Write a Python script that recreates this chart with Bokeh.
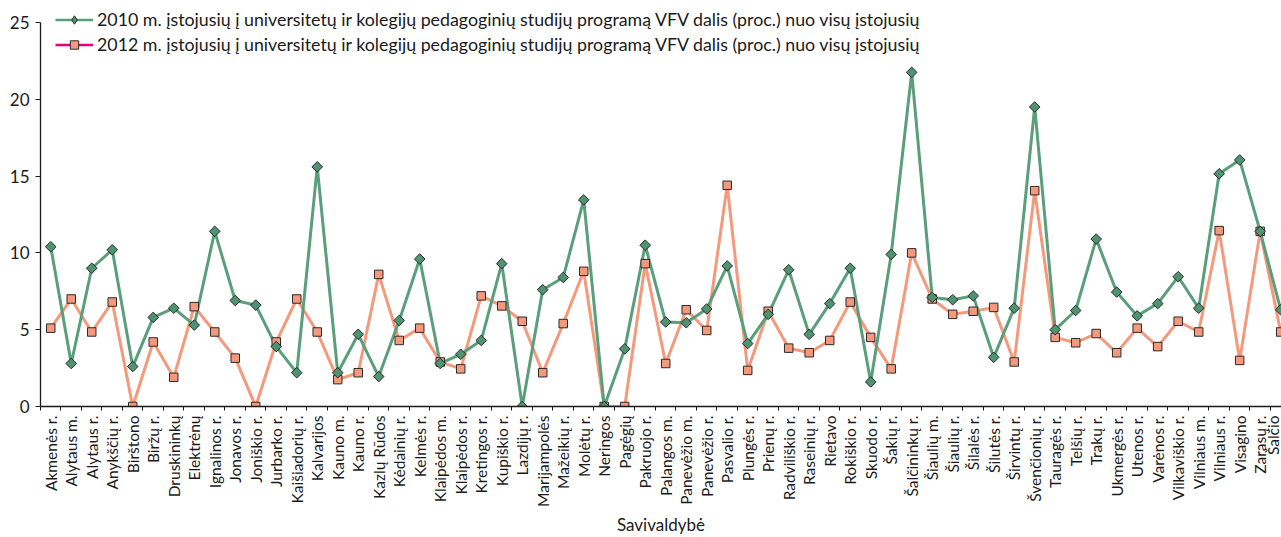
import math
from bokeh.plotting import figure
from bokeh.models import (ColumnDataSource, FixedTicker, Legend, LegendItem, Range1d)
from bokeh.embed import file_html
from bokeh.resources import INLINE

municipalities = [
    "Akmenės r.", "Alytaus m.", "Alytaus r.", "Anykščių r.", "Birštono", "Biržų r.",
    "Druskininkų", "Elektrėnų", "Ignalinos r.", "Jonavos r.", "Joniškio r.", "Jurbarko r.",
    "Kaišiadorių r.", "Kalvarijos", "Kauno m.", "Kauno r.", "Kazlų Rūdos", "Kėdainių r.",
    "Kelmės r.", "Klaipėdos m.", "Klaipėdos r.", "Kretingos r.", "Kupiškio r.", "Lazdijų r.",
    "Marijampolės", "Mažeikių r.", "Molėtų r.", "Neringos", "Pagėgių", "Pakruojo r.",
    "Palangos m.", "Panevėžio m.", "Panevėžio r.", "Pasvalio r.", "Plungės r.", "Prienų r.",
    "Radviliškio r.", "Raseinių r.", "Rietavo", "Rokiškio r.", "Skuodo r.", "Šakių r.",
    "Šalčininkų r.", "Šiaulių m.", "Šiaulių r.", "Šilalės r.", "Šilutės r.", "Širvintų r.",
    "Švenčionių r.", "Tauragės r.", "Telšių r.", "Trakų r.", "Ukmergės r.", "Utenos r.",
    "Varėnos r.", "Vilkaviškio r.", "Vilniaus m.", "Vilniaus r.", "Visagino", "Zarasų r.",
    "Šalčio",
]

share_2010 = [
    10.4, 2.8, 9.0, 10.2, 2.6, 5.8, 6.4, 5.3, 11.4, 6.9, 6.6, 3.9, 2.2, 15.6, 2.2, 4.7,
    1.95, 5.6, 9.6, 2.8, 3.4, 4.3, 9.3, 0.0, 7.6, 8.4, 13.45, 0.0, 3.75, 10.5, 5.5, 5.45,
    6.35, 9.15, 4.1, 6.0, 8.9, 4.7, 6.7, 9.0, 1.6, 9.9, 21.75, 7.1, 6.95, 7.2, 3.2, 6.4,
    19.5, 5.0, 6.25, 10.9, 7.45, 5.9, 6.7, 8.45, 6.4, 15.15, 16.05, 11.4, 6.3,
]

share_2012 = [
    5.1, 7.0, 4.85, 6.8, 0.0, 4.2, 1.9, 6.5, 4.85, 3.15, 0.0, 4.2, 7.0, 4.85, 1.75, 2.2,
    8.6, 4.3, 5.1, 2.9, 2.45, 7.2, 6.55, 5.55, 2.2, 5.4, 8.8, 0.0, 0.0, 9.3, 2.8, 6.3,
    4.95, 14.4, 2.35, 6.2, 3.8, 3.5, 4.3, 6.8, 4.5, 2.45, 10.0, 7.0, 6.0, 6.2, 6.45, 2.9,
    14.05, 4.5, 4.15, 4.75, 3.5, 5.1, 3.9, 5.55, 4.85, 11.45, 3.0, 11.4, 4.85,
]

legend_2010 = "2010 m. įstojusių į universitetų ir kolegijų pedagoginių studijų programą VFV dalis (proc.) nuo visų įstojusių"
legend_2012 = "2012 m. įstojusių į universitetų ir kolegijų pedagoginių studijų programą VFV dalis (proc.) nuo visų įstojusių"
x_title = "Savivaldybė"
y_ticks = [0, 5, 10, 15, 20, 25]

FONT = "Lato"
GREEN = "#5a9e7b"
GREEN_FILL = "#4f9470"
ORANGE = "#f5997c"
MAGENTA = "#e6007e"
EDGE = "#2a2a2a"
TXT = "#1a1a1a"

idx = list(range(len(municipalities)))
src = ColumnDataSource(dict(x=idx, y10=share_2010, y12=share_2012))

W, H = 1281, 537
BORDER_TOP, BORDER_BOTTOM = 8, 130
frame_h = H - BORDER_TOP - BORDER_BOTTOM
px_per_unit = 15.4
y_end = frame_h / px_per_unit

p = figure(width=W, height=H, output_backend="svg", toolbar_location=None,
           x_range=Range1d(-0.5, 60.04), y_range=Range1d(0, y_end),
           min_border_left=40, min_border_right=0, min_border_top=BORDER_TOP,
           min_border_bottom=BORDER_BOTTOM)
p.outline_line_color = None
p.xgrid.visible = False
p.ygrid.visible = False
p.background_fill_color = "white"
p.border_fill_color = "white"

p.line("x", "y12", source=src, line_color=ORANGE, line_width=3)
p.line("x", "y10", source=src, line_color=GREEN, line_width=3)
p.scatter("x", "y12", source=src, marker="square", size=8.5, fill_color=ORANGE,
          line_color=EDGE, line_width=1)
p.scatter("x", "y10", source=src, marker="square", angle=math.pi / 4, size=7.5,
          fill_color=GREEN_FILL, line_color=EDGE, line_width=1)

# legend-only renderers (hidden in the plot, drawn in the legend)
lg_l1 = p.line("x", "y10", source=src, line_color=GREEN, line_width=2.5, visible=False)
lg_m1 = p.scatter("x", "y10", source=src, marker="diamond",
                  fill_color=GREEN_FILL, line_color=EDGE, line_width=1, visible=False)
lg_l2 = p.line("x", "y12", source=src, line_color=MAGENTA, line_width=2.5, visible=False)
lg_m2 = p.scatter("x", "y12", source=src, marker="square", fill_color=ORANGE,
                  line_color=EDGE, line_width=1, visible=False)

ITEM_H, SPACING = 22, 3
legend_h = 2 * ITEM_H + SPACING
legend = Legend(items=[LegendItem(label=legend_2010, renderers=[lg_l1, lg_m1]),
                       LegendItem(label=legend_2012, renderers=[lg_l2, lg_m2])],
                location=(15, frame_h - 1 - legend_h), padding=0, margin=0, spacing=SPACING,
                glyph_width=38, glyph_height=21, label_height=ITEM_H, label_standoff=4,
                border_line_color=None, background_fill_alpha=0,
                label_text_font=FONT, label_text_font_size="17.8px", label_text_color=TXT)
p.add_layout(legend)

xa = p.xaxis[0]
xa.ticker = FixedTicker(ticks=idx, minor_ticks=[i - 0.5 for i in range(len(idx) + 1)])
xa.major_label_overrides = {i: n for i, n in enumerate(municipalities)}
xa.major_label_orientation = math.pi / 2
xa.major_tick_line_color = None
xa.minor_tick_in = 0
xa.minor_tick_out = 4
xa.minor_tick_line_color = TXT
xa.axis_line_color = TXT
xa.axis_line_width = 1.3
xa.major_label_text_font = FONT
xa.major_label_text_font_size = "15.5px"
xa.major_label_text_color = TXT
xa.major_label_standoff = 3
xa.axis_label = x_title
xa.axis_label_text_font = FONT
xa.axis_label_text_font_size = "17px"
xa.axis_label_text_font_style = "normal"
xa.axis_label_text_color = TXT
xa.axis_label_standoff = 4

ya = p.yaxis[0]
ya.ticker = FixedTicker(ticks=y_ticks, minor_ticks=[])
ya.bounds = (0, 25)
ya.major_tick_in = 0
ya.major_tick_out = 5
ya.major_tick_line_color = TXT
ya.axis_line_color = TXT
ya.axis_line_width = 1.3
ya.major_label_text_font = FONT
ya.major_label_text_font_size = "17px"
ya.major_label_text_color = TXT
ya.major_label_standoff = 6

open("out.html", "w").write(file_html(p, INLINE))
